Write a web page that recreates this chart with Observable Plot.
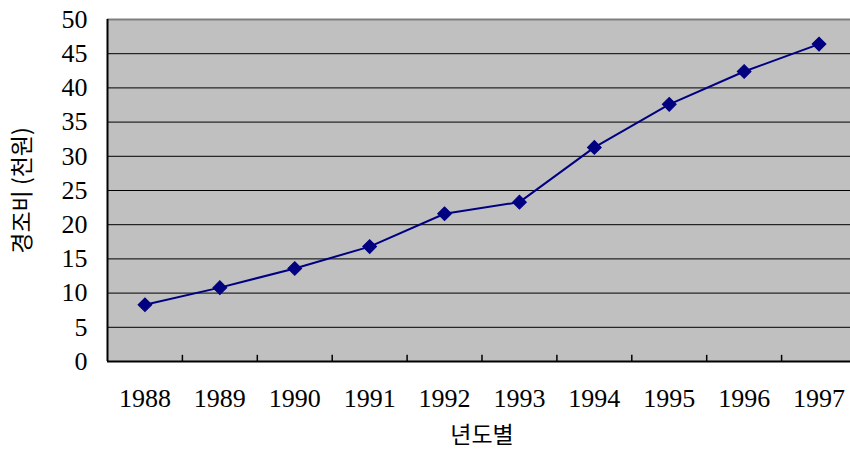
<!DOCTYPE html>
<html>
<head>
<meta charset="utf-8">
<script src="https://cdn.jsdelivr.net/npm/d3@7"></script>
<script src="https://cdn.jsdelivr.net/npm/@observablehq/plot@0.6"></script>
<style>
  html, body { margin: 0; padding: 0; background: #fff; overflow: hidden; }
</style>
</head>
<body>
<div id="chart"></div>
<script>
const years = [1988, 1989, 1990, 1991, 1992, 1993, 1994, 1995, 1996, 1997];
const values = [8.3, 10.8, 13.6, 16.8, 21.6, 23.3, 31.3, 37.6, 42.4, 46.4];
const yTicks = [0, 5, 10, 15, 20, 25, 30, 35, 40, 45, 50];
const yLabel = "경조비 (천원)";
const xLabel = "년도별";

const data = years.map((y, i) => ({year: y, value: values[i]}));
const boundaries = years.slice(1).map(y => y - 0.5);
const gridLines = yTicks.filter(t => t > 0 && t < 50);

const chart = Plot.plot({
  width: 850,
  height: 450,
  marginLeft: 107,
  marginRight: -6,
  marginTop: 19,
  marginBottom: 89,
  style: {fontFamily: "'Liberation Serif', serif", fontSize: "26px", color: "#000", background: "#fff"},
  x: {domain: [years[0] - 0.5, years[years.length - 1] + 0.5], axis: null},
  y: {domain: [0, 50], axis: null},
  marks: [
    Plot.frame({fill: "#c0c0c0", stroke: null}),
    Plot.ruleY(gridLines, {stroke: "#000", strokeWidth: 1}),
    Plot.ruleY([50], {stroke: "#808080", strokeWidth: 2}),
    Plot.ruleX(boundaries, {y1: 0, y2: 0.9, stroke: "#000", strokeWidth: 1.5}),
    Plot.ruleX([years[0] - 0.5], {stroke: "#000", strokeWidth: 2}),
    Plot.ruleY([0], {stroke: "#000", strokeWidth: 2}),
    Plot.axisY(yTicks, {tickSize: 0, tickPadding: 20, fontSize: 26, fontFamily: "'Liberation Serif', serif", tickFormat: d => String(d), label: null}),
    Plot.axisX(years, {tickSize: 0, tickPadding: 27, fontSize: 26, fontFamily: "'Liberation Serif', serif", tickFormat: d => String(d), label: null}),
    Plot.line(data, {x: "year", y: "value", stroke: "#000080", strokeWidth: 2}),
    Plot.dot(data, {x: "year", y: "value", symbol: "square", rotate: 45, r: 5.5, fill: "#000080", stroke: "#000080", strokeWidth: 1}),
    Plot.text([yLabel], {frameAnchor: "left", dx: -85, rotate: -90, textAnchor: "middle", lineAnchor: "middle", fontSize: 23, fontFamily: "'Noto Sans CJK KR', sans-serif", fill: "#000"}),
    Plot.text([xLabel], {frameAnchor: "bottom", dy: 74, textAnchor: "middle", lineAnchor: "middle", fontSize: 23, fontFamily: "'Noto Sans CJK KR', sans-serif", fill: "#000"})
  ]
});
document.getElementById("chart").appendChild(chart);
</script>
</body>
</html>
